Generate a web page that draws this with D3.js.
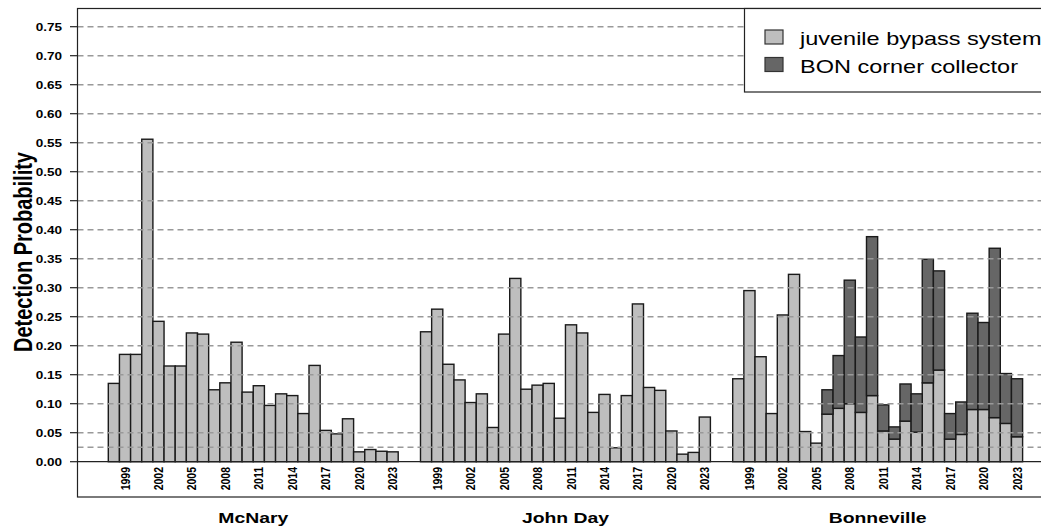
<!DOCTYPE html>
<html>
<head>
<meta charset="utf-8">
<script src="https://cdn.jsdelivr.net/npm/d3@7"></script>
<style>
  body { margin: 0; background: #fff; }
  svg { display: block; }
  text { font-family: "Liberation Sans", Arial, sans-serif; fill: #000; }
</style>
</head>
<body>
<svg id="chart" width="1041" height="531"></svg>
<script>
const years = [1998, 1999, 2000, 2001, 2002, 2003, 2004, 2005, 2006, 2007, 2008, 2009, 2010,
  2011, 2012, 2013, 2014, 2015, 2016, 2017, 2018, 2019, 2020, 2021, 2022, 2023];
const tickYears = [1999, 2002, 2005, 2008, 2011, 2014, 2017, 2020, 2023];
const sites = ["McNary", "John Day", "Bonneville"];

// juvenile bypass system detection probability by year
const mcnary = [0.135, 0.185, 0.185, 0.556, 0.242, 0.165, 0.165, 0.222, 0.220, 0.124, 0.136, 0.206, 0.120,
  0.131, 0.097, 0.117, 0.114, 0.083, 0.166, 0.054, 0.048, 0.074, 0.017, 0.021, 0.018, 0.017];
const johnDay = [0.224, 0.263, 0.168, 0.141, 0.102, 0.117, 0.059, 0.220, 0.316, 0.125, 0.132, 0.135, 0.075,
  0.236, 0.222, 0.085, 0.116, 0.024, 0.114, 0.272, 0.128, 0.123, 0.053, 0.013, 0.016, 0.077];
const bonJuvenile = [0.143, 0.295, 0.181, 0.083, 0.253, 0.323, 0.052, 0.032, 0.082, 0.092, 0.100, 0.085, 0.114,
  0.053, 0.039, 0.070, 0.051, 0.136, 0.158, 0.039, 0.047, 0.090, 0.090, 0.076, 0.066, 0.043];
// BON corner collector, stacked on top of the bypass value
const bonCorner = [0, 0, 0, 0, 0, 0, 0, 0, 0.042, 0.091, 0.213, 0.130, 0.274,
  0.045, 0.021, 0.064, 0.066, 0.213, 0.171, 0.044, 0.056, 0.166, 0.150, 0.292, 0.086, 0.100];

const yTicks = [0, 0.05, 0.1, 0.15, 0.2, 0.25, 0.3, 0.35, 0.4, 0.45, 0.5, 0.55, 0.6, 0.65, 0.7, 0.75];
const gridLines = [0.025, 0.05, 0.1, 0.15, 0.2, 0.25, 0.3, 0.35, 0.4, 0.45, 0.5, 0.55, 0.6, 0.65, 0.7, 0.75];
const legendLabels = ["juvenile bypass system", "BON corner collector"];

const colJbs = "#bebebe";
const colBcc = "#666666";
const stretch = 1.25; // the picture is a bit wider than tall, text too

const svg = d3.select("#chart");
const box = { left: 77.5, top: 8.5, right: 1046, bottom: 497 };

// one slot per year, two empty slots between sites
const slots = [];
sites.forEach((s, i) => {
  if (i > 0) slots.push(`gap${i}a`, `gap${i}b`);
  years.forEach(yr => slots.push(`${s}|${yr}`));
});

const x = d3.scaleBand().domain(slots).range([108.3, 1022.6]).padding(0);
const y = d3.scaleLinear().domain([0, 0.75]).range([461.7, 26.7]);

const rows = [];
years.forEach((yr, i) => {
  rows.push({ site: "McNary", year: yr, jbs: mcnary[i], bcc: 0 });
  rows.push({ site: "John Day", year: yr, jbs: johnDay[i], bcc: 0 });
  rows.push({ site: "Bonneville", year: yr, jbs: bonJuvenile[i], bcc: bonCorner[i] });
});

// bars
const bars = svg.append("g").attr("stroke", "#1a1a1a").attr("stroke-width", 1.4);
bars.selectAll("rect.jbs")
  .data(rows)
  .join("rect")
  .attr("class", "jbs")
  .attr("x", d => x(`${d.site}|${d.year}`))
  .attr("width", x.bandwidth())
  .attr("y", d => y(d.jbs))
  .attr("height", d => y(0) - y(d.jbs))
  .attr("fill", colJbs);
bars.selectAll("rect.bcc")
  .data(rows.filter(d => d.bcc > 0))
  .join("rect")
  .attr("class", "bcc")
  .attr("x", d => x(`${d.site}|${d.year}`))
  .attr("width", x.bandwidth())
  .attr("y", d => y(d.jbs + d.bcc))
  .attr("height", d => y(d.jbs) - y(d.jbs + d.bcc))
  .attr("fill", colBcc);

// dashed reference lines drawn over the bars
svg.append("g")
  .selectAll("line")
  .data(gridLines)
  .join("line")
  .attr("x1", box.left)
  .attr("x2", box.right)
  .attr("y1", d => y(d))
  .attr("y2", d => y(d))
  .attr("stroke", "#999")
  .attr("stroke-width", 1.4)
  .attr("stroke-dasharray", "6,4");

// zero line
svg.append("line")
  .attr("x1", box.left).attr("x2", box.right)
  .attr("y1", y(0)).attr("y2", y(0))
  .attr("stroke", "#222").attr("stroke-width", 1.3);

// plot frame
svg.append("rect")
  .attr("x", box.left).attr("y", box.top)
  .attr("width", box.right - box.left).attr("height", box.bottom - box.top)
  .attr("fill", "none").attr("stroke", "#222").attr("stroke-width", 1.2);

// y axis
const yAxis = svg.append("g");
yAxis.selectAll("line")
  .data(yTicks)
  .join("line")
  .attr("x1", 70).attr("x2", box.left)
  .attr("y1", d => y(d)).attr("y2", d => y(d))
  .attr("stroke", "#222").attr("stroke-width", 1.2);
yAxis.selectAll("text")
  .data(yTicks)
  .join("text")
  .attr("transform", d => `translate(62,${y(d) + 3.9}) scale(${stretch},1)`)
  .attr("text-anchor", "end")
  .style("font-size", "10.8px")
  .style("font-weight", "bold")
  .text(d => d3.format(".2f")(d));

svg.append("text")
  .attr("transform", `translate(32,252) scale(${stretch},1) rotate(-90)`)
  .attr("text-anchor", "middle")
  .style("font-size", "20px")
  .style("font-weight", "bold")
  .text("Detection Probability");

// year labels under each site
const yearLabels = [];
sites.forEach(s => tickYears.forEach(yr => yearLabels.push({ site: s, year: yr })));
svg.append("g")
  .selectAll("text")
  .data(yearLabels)
  .join("text")
  .attr("transform", d => `translate(${x(`${d.site}|${d.year}`) + x.bandwidth() / 2 + 4.5},467) scale(${stretch},1) rotate(-90)`)
  .attr("text-anchor", "end")
  .style("font-size", "10.5px")
  .style("font-weight", "bold")
  .text(d => d.year);

// site names
svg.append("g")
  .selectAll("text")
  .data(sites)
  .join("text")
  .attr("transform", s => {
    const cx = (x(`${s}|${years[0]}`) + x(`${s}|${years[years.length - 1]}`) + x.bandwidth()) / 2;
    return `translate(${cx},523) scale(${stretch},1)`;
  })
  .attr("text-anchor", "middle")
  .style("font-size", "15.5px")
  .style("font-weight", "bold")
  .text(s => s);

// legend
const legend = svg.append("g");
legend.append("rect")
  .attr("x", 744.5).attr("y", box.top)
  .attr("width", 320).attr("height", 92 - box.top)
  .attr("fill", "#fff").attr("stroke", "#222").attr("stroke-width", 1.2);
const legendRows = legend.selectAll("g.item")
  .data(legendLabels)
  .join("g")
  .attr("class", "item");
legendRows.append("rect")
  .attr("x", 765).attr("y", (d, i) => 30 + i * 27.5)
  .attr("width", 18).attr("height", 14)
  .attr("fill", (d, i) => i === 0 ? colJbs : colBcc)
  .attr("stroke", "#333").attr("stroke-width", 1.2);
legendRows.append("text")
  .attr("transform", (d, i) => `translate(800,${45 + i * 28}) scale(${stretch},1)`)
  .style("font-size", "18.8px")
  .text(d => d);
</script>
</body>
</html>
